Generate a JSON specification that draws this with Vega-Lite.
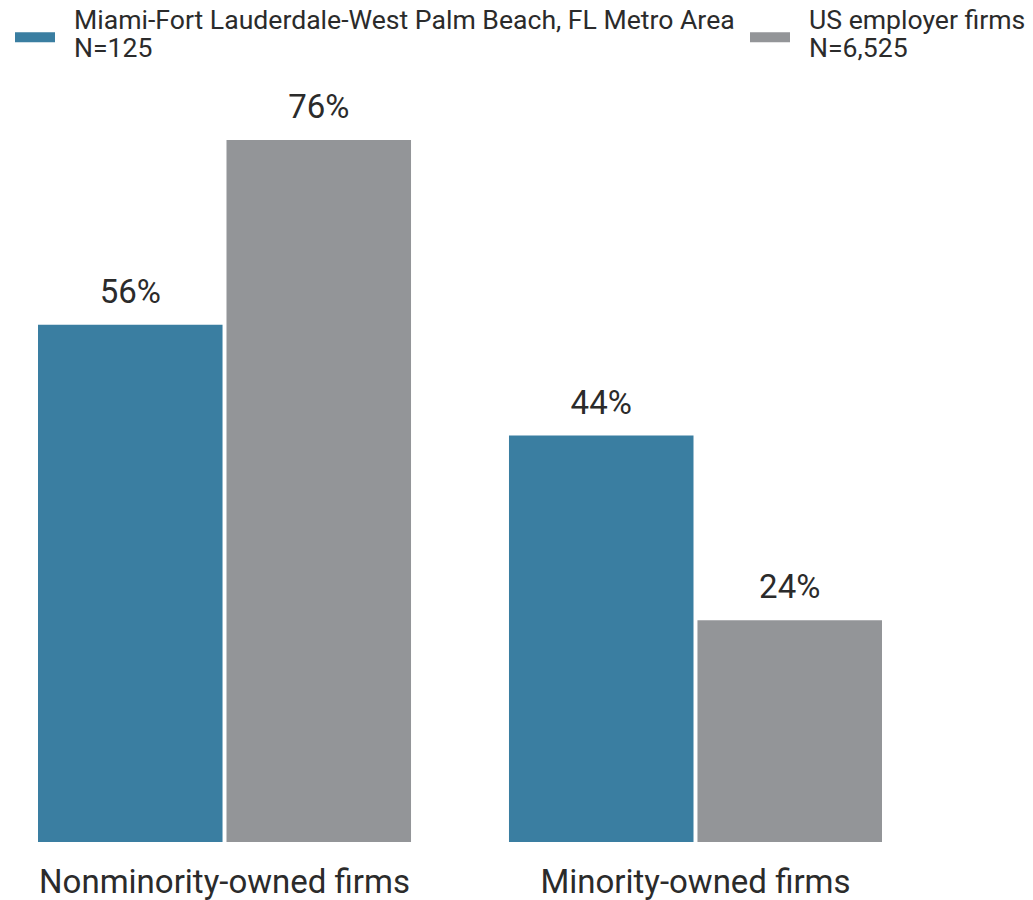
{
  "$schema": "https://vega.github.io/schema/vega-lite/v6.json",
  "autosize": {"type": "none"},
  "width": 920,
  "height": 739,
  "padding": {"left": 0, "top": 103, "right": 113, "bottom": 58},
  "background": "white",
  "config": {"view": {"stroke": null}, "font": "Roboto"},
  "data": {"values": [
    {"group": "Nonminority-owned firms", "series": "Miami-Fort Lauderdale-West Palm Beach, FL Metro Area|N=125", "value": 0.56},
    {"group": "Nonminority-owned firms", "series": "US employer firms|N=6,525", "value": 0.76},
    {"group": "Minority-owned firms", "series": "Miami-Fort Lauderdale-West Palm Beach, FL Metro Area|N=125", "value": 0.44},
    {"group": "Minority-owned firms", "series": "US employer firms|N=6,525", "value": 0.24}
  ]},
  "encoding": {
    "x": {"field": "group", "type": "nominal", "sort": ["Nonminority-owned firms", "Minority-owned firms"],
      "scale": {"paddingInner": 0.208, "paddingOuter": 0.0807},
      "axis": {"title": null, "domain": false, "ticks": false, "labelAngle": 0, "labelFontSize": 33, "labelColor": "#2b2b2b", "labelPadding": 24, "labelFont": "Roboto", "labelLimit": 500}},
    "xOffset": {"field": "series", "type": "nominal", "sort": ["Miami-Fort Lauderdale-West Palm Beach, FL Metro Area|N=125", "US employer firms|N=6,525"],
      "scale": {"paddingInner": 0.021, "paddingOuter": 0}},
    "y": {"field": "value", "type": "quantitative", "scale": {"domain": [0, 0.8], "nice": false}, "axis": null}
  },
  "layer": [
    {
      "mark": {"type": "bar"},
      "encoding": {
        "color": {"field": "series", "type": "nominal",
          "scale": {"domain": ["Miami-Fort Lauderdale-West Palm Beach, FL Metro Area|N=125", "US employer firms|N=6,525"], "range": ["#3a7ea1", "#939598"]},
          "legend": {
            "title": null, "orient": "none", "direction": "horizontal", "columns": 2,
            "legendX": 15, "legendY": -86, "padding": 0, "columnPadding": 15,
            "symbolType": "M-1,-0.25L1,-0.25L1,0.25L-1,0.25Z", "symbolSize": 1600, "symbolStrokeWidth": 0, "symbolOpacity": 1,
            "labelExpr": "split(datum.label, '|')", "labelFontSize": 26.6, "labelColor": "#2b2b2b", "labelFont": "Roboto",
            "labelOffset": 19, "labelLimit": 900, "labelBaseline": "middle",
            "encode": {"labels": {"update": {"lineHeight": {"value": 28}, "dy": {"value": -16}}}}
          }
        }
      }
    },
    {
      "mark": {"type": "text", "baseline": "alphabetic", "dy": -22, "fontSize": 33, "color": "#2b2b2b", "font": "Roboto"},
      "encoding": {
        "text": {"field": "value", "type": "quantitative", "format": ".0%"},
        "detail": {"field": "series"}
      }
    }
  ]
}
